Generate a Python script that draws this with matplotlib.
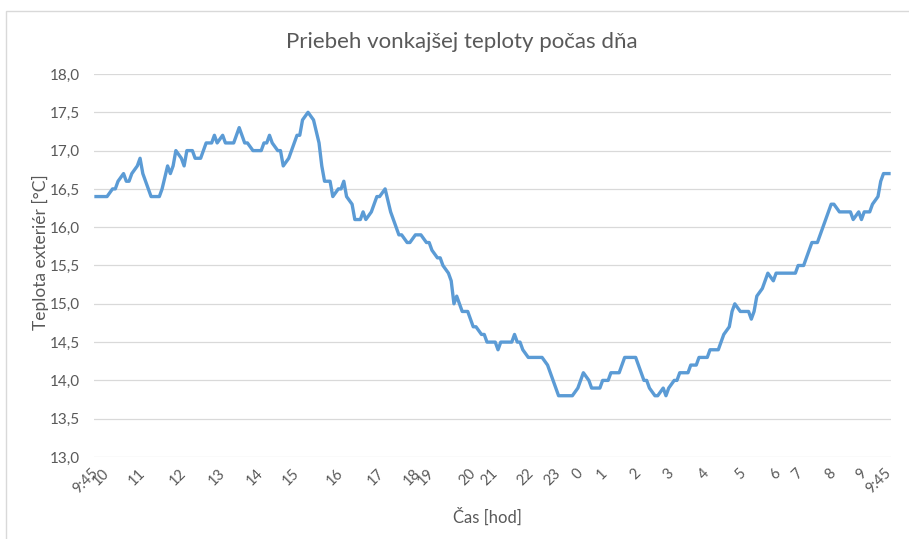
import matplotlib.pyplot as plt
from matplotlib.patches import Rectangle

plt.rcParams['font.family'] = ['Lato', 'DejaVu Sans']

# vertices of the temperature curve (sample number, 5 min steps from 9:45)
sample = [0, 4, 6, 7, 8, 10, 11, 12, 13, 15, 16, 17, 18, 20, 23, 24, 26, 27, 28, 29,
          31, 32, 33, 35, 36, 38, 39, 40, 42, 43, 44, 46, 47, 50, 52, 54, 55, 57, 60, 61,
          62, 63, 64, 66, 67, 68, 70, 71, 73, 74, 75, 77, 79, 81, 82, 83, 85, 86, 88, 89,
          90, 91, 93, 94, 96, 97, 98, 100, 101, 102, 103, 105, 107, 108, 109, 110, 111, 113, 114, 116,
          118, 120, 121, 122, 124, 125, 126, 128, 129, 130, 131, 133, 135, 136, 137, 138, 140, 141, 142, 145,
          146, 147, 151, 152, 153, 154, 155, 157, 162, 164, 165, 166, 167, 168, 173, 175, 177, 179, 180, 183,
          184, 186, 187, 190, 191, 192, 196, 197, 199, 200, 201, 203, 204, 206, 207, 208, 210, 211, 212, 215,
          216, 218, 219, 222, 223, 226, 227, 228, 230, 231, 232, 234, 237, 238, 239, 240, 242, 243, 244, 246,
          247, 254, 255, 257, 258, 259, 260, 262, 263, 264, 265, 267, 268, 270, 274, 275, 277, 278, 279, 281,
          282, 284, 285, 286, 288]
teplota = [16.4, 16.4, 16.5, 16.5, 16.6, 16.7, 16.6, 16.6, 16.7, 16.8, 16.9, 16.7, 16.6, 16.4, 16.4, 16.5, 16.8, 16.7, 16.8, 17.0,
           16.9, 16.8, 17.0, 17.0, 16.9, 16.9, 17.0, 17.1, 17.1, 17.2, 17.1, 17.2, 17.1, 17.1, 17.3, 17.1, 17.1, 17.0, 17.0, 17.1,
           17.1, 17.2, 17.1, 17.0, 17.0, 16.8, 16.9, 17.0, 17.2, 17.2, 17.4, 17.5, 17.4, 17.1, 16.8, 16.6, 16.6, 16.4, 16.5, 16.5,
           16.6, 16.4, 16.3, 16.1, 16.1, 16.2, 16.1, 16.2, 16.3, 16.4, 16.4, 16.5, 16.2, 16.1, 16.0, 15.9, 15.9, 15.8, 15.8, 15.9,
           15.9, 15.8, 15.8, 15.7, 15.6, 15.6, 15.5, 15.4, 15.3, 15.0, 15.1, 14.9, 14.9, 14.8, 14.7, 14.7, 14.6, 14.6, 14.5, 14.5,
           14.4, 14.5, 14.5, 14.6, 14.5, 14.5, 14.4, 14.3, 14.3, 14.2, 14.1, 14.0, 13.9, 13.8, 13.8, 13.9, 14.1, 14.0, 13.9, 13.9,
           14.0, 14.0, 14.1, 14.1, 14.2, 14.3, 14.3, 14.2, 14.0, 14.0, 13.9, 13.8, 13.8, 13.9, 13.8, 13.9, 14.0, 14.0, 14.1, 14.1,
           14.2, 14.2, 14.3, 14.3, 14.4, 14.4, 14.5, 14.6, 14.7, 14.9, 15.0, 14.9, 14.9, 14.8, 14.9, 15.1, 15.2, 15.3, 15.4, 15.3,
           15.4, 15.4, 15.5, 15.5, 15.6, 15.7, 15.8, 15.8, 15.9, 16.0, 16.1, 16.3, 16.3, 16.2, 16.2, 16.1, 16.2, 16.1, 16.2, 16.2,
           16.3, 16.4, 16.6, 16.7, 16.7]

# hour labels on the category axis
tick_pos = [0, 4, 17, 32, 46, 60, 73, 89, 104, 117, 122, 137, 145, 158, 168, 176,
            185, 197, 209, 222, 235, 248, 256, 268, 279, 288]
tick_lab = ['9:45', '10', '11', '12', '13', '14', '15', '16', '17', '18', '19', '20', '21',
            '22', '23', '0', '1', '2', '3', '4', '5', '6', '7', '8', '9', '9:45']

W, H = 909, 539
fig = plt.figure(figsize=(W / 100, H / 100), dpi=100)
fig.patches.append(Rectangle((6 / W, -0.1), 1.2, 1.1 - 11 / H, transform=fig.transFigure,
                             fill=False, edgecolor='#D9D9D9', linewidth=1.0))

ax = fig.add_axes([94 / W, 1 - 457 / H, (891 - 94) / W, (457 - 74) / H])
ax.plot(sample, teplota, color='#5B9BD5', linewidth=2.4, solid_joinstyle='round')

ax.set_ylim(13, 18)
ax.set_xlim(-0.73, 288.73)
yt = [13 + 0.5 * i for i in range(11)]
ax.set_yticks(yt)
ax.set_yticklabels([f'{v:.1f}'.replace('.', ',') for v in yt], color='#595959', fontsize=11)
ax.set_xticks(tick_pos)
ax.set_xticklabels(tick_lab, rotation=45, ha='right', va='center', rotation_mode='anchor',
                   color='#595959', fontsize=10.5)
ax.tick_params(axis='x', length=0, pad=10)
ax.tick_params(axis='y', length=0, pad=10)
ax.grid(axis='y', color='#D9D9D9', linewidth=0.9)
ax.set_axisbelow(True)
for s in ax.spines.values():
    s.set_visible(False)

fig.text(40 / W, 1 - 252 / H, 'Teplota exteriér [°C]', rotation=90, ha='center', va='center',
         color='#595959', fontsize=12.5)
fig.text(487 / W, 1 - 517 / H, 'Čas [hod]', ha='center', va='center',
         color='#595959', fontsize=12)
fig.text(462 / W, 1 - 42 / H, 'Priebeh vonkajšej teploty počas dňa', ha='center', va='center',
         color='#595959', fontsize=16)

fig.savefig('out.png', dpi=100)
